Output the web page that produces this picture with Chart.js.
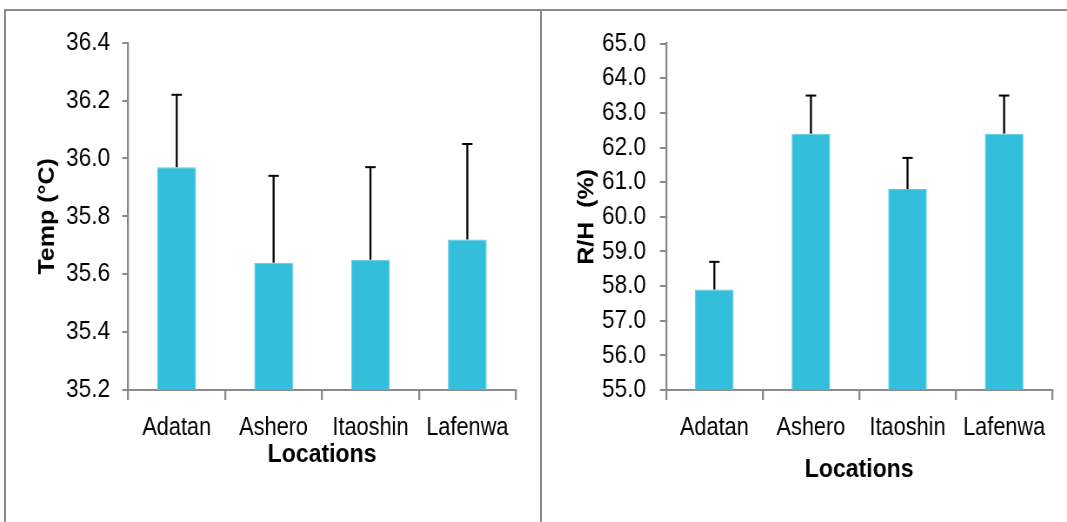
<!DOCTYPE html>
<html>
<head>
<meta charset="utf-8">
<script src="https://cdn.jsdelivr.net/npm/chart.js@4.4.1/dist/chart.umd.min.js"></script>
<style>
  html, body { margin: 0; padding: 0; background: #ffffff; }
  body { width: 1067px; height: 522px; position: relative; overflow: hidden; }
  .rule { position: absolute; background: #8a8a8a; }
  .panel { position: absolute; transform-origin: 0 0; }
  .panel canvas { display: block; }
</style>
</head>
<body>
<div class="rule" style="left:4px; top:9px; width:1063px; height:2px;"></div>
<div class="rule" style="left:4px; top:9px; width:2px; height:513px;"></div>
<div class="rule" style="left:540px; top:9px; width:2px; height:513px;"></div>
<!-- Each panel is drawn wide and condensed horizontally, giving narrow lettering -->
<div class="panel" style="left:6px; top:12px; transform:scaleX(0.8697);">
  <canvas id="tempChart" width="614" height="510" style="width:614px; height:510px;"></canvas>
</div>
<div class="panel" style="left:542px; top:12px; transform:scaleX(0.8692);">
  <canvas id="rhChart" width="604" height="510" style="width:604px; height:510px;"></canvas>
</div>
<script>
// Sampling sites
const locations = ['Adatan', 'Ashero', 'Itaoshin', 'Lafenwa'];

// Mean air temperature (°C) and standard deviation per site
const tempMean = [35.97, 35.64, 35.65, 35.72];
const tempSd = [0.25, 0.30, 0.32, 0.33];

// Mean relative humidity (%) and standard deviation per site
const rhMean = [57.9, 62.4, 60.8, 62.4];
const rhSd = [0.8, 1.1, 0.9, 1.1];

// Axis ranges
const tempTicks = { min: 35.2, max: 36.4, step: 0.2 };
const rhTicks = { min: 55.0, max: 65.0, step: 1.0 };

const BAR = '#33bedb';
const AXIS = '#8a8a8a';
const SANS = "'Liberation Sans', Arial, sans-serif";

// Upper error bars (mean + SD), drawn through the chart's own scales
const errorBars = {
  id: 'errorBars',
  afterDatasetsDraw(chart, args, opts) {
    const { ctx } = chart;
    const y = chart.scales.y;
    const meta = chart.getDatasetMeta(0);
    const means = chart.data.datasets[0].data;
    ctx.save();
    ctx.strokeStyle = '#000000';
    meta.data.forEach((bar, i) => {
      const top = y.getPixelForValue(means[i] + opts.sd[i]);
      const base = y.getPixelForValue(means[i]);
      const x = bar.x;
      ctx.lineWidth = 2.3;
      ctx.beginPath();
      ctx.moveTo(x, base);
      ctx.lineTo(x, top);
      ctx.stroke();
      ctx.lineWidth = 2;
      ctx.beginPath();
      ctx.moveTo(x - 6, top);
      ctx.lineTo(x + 6, top);
      ctx.stroke();
    });
    ctx.restore();
  }
};

function makeChart(id, means, sd, range, yTitle, cfg) {
  return new Chart(document.getElementById(id), {
    type: 'bar',
    data: {
      labels: locations,
      datasets: [{
        data: means,
        backgroundColor: BAR,
        borderColor: '#5ccbe3',
        borderWidth: 1,
        barPercentage: 0.4,
        categoryPercentage: 1.0
      }]
    },
    options: {
      responsive: false,
      devicePixelRatio: 1,
      animation: false,
      layout: { padding: { left: 0, top: cfg.top, right: cfg.right, bottom: 0 } },
      plugins: {
        legend: { display: false },
        tooltip: { enabled: false },
        errorBars: { sd: sd }
      },
      scales: {
        x: {
          grid: { display: true, drawOnChartArea: false, drawTicks: true, tickLength: 10, color: AXIS, lineWidth: 2.3, offset: true },
          border: { display: true, color: AXIS, width: 2 },
          ticks: { color: '#000000', font: { family: SANS, size: 25 }, padding: 13, maxRotation: 0, autoSkip: false },
          title: { display: true, text: 'Locations', color: '#000000', font: { family: SANS, size: 26.5, weight: 'bold' }, padding: { top: 0, bottom: cfg.xTitleBottom } },
          afterFit(scale) { scale.height = cfg.xHeight; }
        },
        y: {
          min: range.min,
          max: range.max,
          grid: { display: true, drawOnChartArea: false, drawTicks: true, tickLength: 7, color: AXIS, lineWidth: 2 },
          border: { display: true, color: AXIS, width: 2.3 },
          ticks: {
            stepSize: range.step,
            color: '#000000',
            font: { family: SANS, size: 26 },
            padding: cfg.yTickPad,
            callback: (v) => Number(v).toFixed(1)
          },
          title: { display: true, text: yTitle, color: '#000000', font: { family: SANS, size: 25, weight: 'bold' }, padding: { top: cfg.yTitleTop, bottom: 0 } },
          afterFit(scale) { scale.width = cfg.yWidth; }
        }
      }
    },
    plugins: [errorBars]
  });
}

makeChart('tempChart', tempMean, tempSd, tempTicks, 'Temp (°C)',
  { top: 30.7, right: 27.9, yWidth: 140.6, xHeight: 132, xTitleBottom: 51, yTitleTop: 32.7, yTickPad: 14 });
makeChart('rhChart', rhMean, rhSd, rhTicks, 'R/H  (%)',
  { top: 31.3, right: 16.8, yWidth: 142.7, xHeight: 132, xTitleBottom: 36, yTitleTop: 36.8, yTickPad: 16 });
</script>
</body>
</html>
